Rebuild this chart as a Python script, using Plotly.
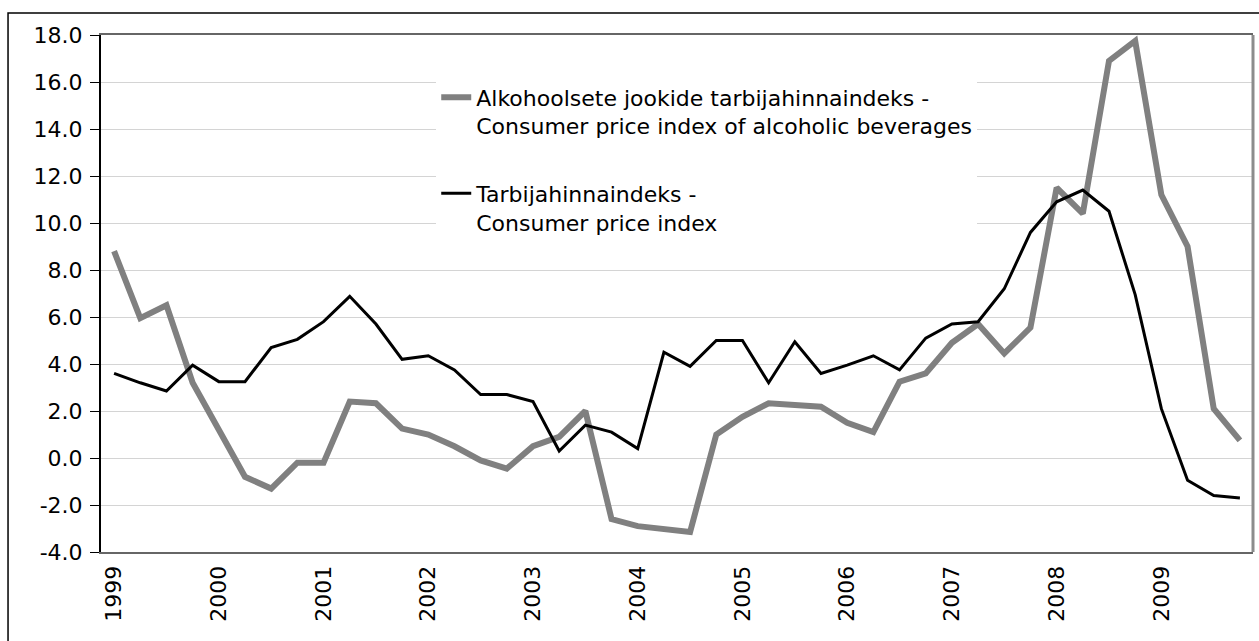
import plotly.graph_objects as go

years = [str(y) for y in range(1999, 2010)]
quarters = ["I", "II", "III", "IV"]
periods = [f"{y} {q}" for y in years for q in quarters]

alcohol_cpi = [8.8, 5.95, 6.5, 3.2,
               1.2, -0.8, -1.3, -0.2,
               -0.2, 2.4, 2.33, 1.25,
               1.0, 0.5, -0.1, -0.45,
               0.5, 0.9, 2.0, -2.6,
               -2.9, -3.0, -3.15, 1.0,
               1.75, 2.33, 2.25, 2.18,
               1.5, 1.1, 3.25, 3.6,
               4.9, 5.7, 4.45, 5.55,
               11.5, 10.4, 16.9, 17.75,
               11.2, 9.0, 2.1, 0.75]

cpi = [3.6, 3.2, 2.85, 3.95,
       3.25, 3.25, 4.7, 5.05,
       5.8, 6.88, 5.7, 4.2,
       4.35, 3.75, 2.7, 2.7,
       2.4, 0.3, 1.4, 1.1,
       0.4, 4.5, 3.9, 5.0,
       5.0, 3.2, 4.95, 3.6,
       3.95, 4.35, 3.75, 5.1,
       5.7, 5.8, 7.2, 9.6,
       10.9, 11.4, 10.5, 6.95,
       2.1, -0.95, -1.6, -1.7]

y_ticks = [-4, -2, 0, 2, 4, 6, 8, 10, 12, 14, 16, 18]
y_ticktext = [f"{v:.1f}" for v in y_ticks]

name_alcohol = "Alkohoolsete jookide tarbijahinnaindeks -<br>Consumer price index of alcoholic beverages"
name_cpi = "Tarbijahinnaindeks -<br>Consumer price index"

FONT = "DejaVu Sans"

fig = go.Figure()
fig.add_trace(go.Scatter(x=periods, y=alcohol_cpi, mode="lines", name=name_alcohol,
                         line=dict(color="#808080", width=6), legendgroup="a"))
fig.add_trace(go.Scatter(x=periods, y=cpi, mode="lines", name=name_cpi,
                         line=dict(color="#000000", width=3), legendgroup="b"))

fig.update_layout(
    width=1259, height=641,
    margin=dict(l=101, r=6, t=35, b=89),
    paper_bgcolor="white", plot_bgcolor="white",
    font=dict(family=FONT, size=22, color="black"),
    showlegend=True,
    legend=dict(x=0.291, y=0.92, xanchor="left", yanchor="top",
                bgcolor="white", borderwidth=0, valign="top",
                tracegroupgap=36, font=dict(family=FONT, size=22, color="black")),
    xaxis=dict(type="category", range=[-0.5, len(periods) - 0.5],
               tickvals=[f"{y} I" for y in years], ticktext=years,
               tickangle=-90, showgrid=False, showline=True, linecolor="#666666",
               linewidth=2, mirror=True, ticks="", ticklabelstandoff=3,
               tickfont=dict(family=FONT, size=22, color="black")),
    yaxis=dict(range=[-4, 18], tickvals=y_ticks, ticktext=y_ticktext, showgrid=True,
               gridcolor="#d4d4d4", gridwidth=1, zeroline=False,
               showline=True, linecolor="black", linewidth=2,
               ticks="outside", ticklen=9, tickcolor="black", tickwidth=1,
               ticklabelstandoff=3,
               tickfont=dict(family=FONT, size=22, color="black")),
    shapes=[
        dict(type="line", xref="paper", yref="paper", x0=1, x1=1, y0=0, y1=1,
             line=dict(color="#8c8c8c", width=3)),
        dict(type="rect", xref="paper", yref="paper", x0=-0.0807, x1=1.012,
             y0=-0.2, y1=1.0426, line=dict(color="black", width=1.5)),
    ],
)

fig.write_html("out.html", config={"displayModeBar": False},
               post_script="document.body.style.margin='0';document.body.style.overflow='hidden';")
